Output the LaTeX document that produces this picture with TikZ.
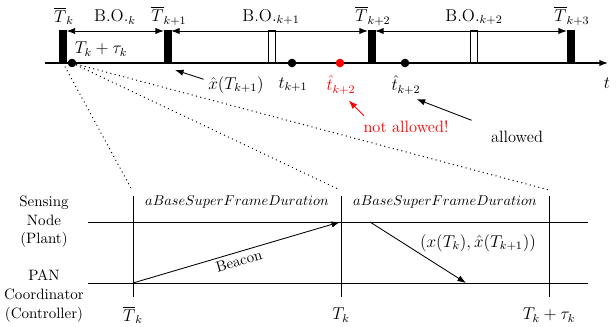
\documentclass[tikz,border=0pt]{standalone}
\usepackage{amsmath, amssymb}
\usetikzlibrary{arrows.meta}

\begin{document}
\begin{tikzpicture}[x=0.7pt, y=-0.7pt, >={Latex[length=6pt,width=4.4pt]},
    line width=0.6pt, font=\fontsize{12}{14.4}\selectfont,
    barra/.style={draw, fill=black, inner sep=0pt, line width=0.4pt,
        minimum width=4.6pt, minimum height=23pt, anchor=south},
    barravuota/.style={barra, fill=white},
    punto/.style={circle, fill=black, inner sep=0pt, minimum size=6pt},
    puntini/.style={line width=0.9pt, dash pattern=on 0.1pt off 3pt, line cap=round},
    testo/.style={font=\fontsize{10.5}{13}\selectfont, align=center}]

    \useasboundingbox (0,0) rectangle (616,327);

    % Asse dei tempi
    \coordinate (a0) at (45,63);
    \coordinate (a1) at (608,63);
    \draw[->, line width=0.8pt] (a0) -- (a1);
    \node (tt) at (607,83) {$t$};

    % Barre (beacon)
    \node[barra] (b0) at (63,63) {};
    \node[barra] (b1) at (167.5,63) {};
    \node[barra] (b2) at (371.5,63) {};
    \node[barra] (b3) at (570.5,63) {};
    \node[barravuota] (v1) at (271.5,63) {};
    \node[barravuota] (v2) at (473.5,63) {};

    % Beacon order
    \draw[<->] ([yshift=-1pt]b0.north east) -- ([yshift=-1pt]b1.north west);
    \draw[<->] ([yshift=-1pt]b1.north east) -- ([yshift=-1pt]b2.north west);
    \draw[<->] ([yshift=-1pt]b2.north east) -- ([yshift=-1pt]b3.north west);

    % Etichette in alto
    \node (Tb0) at (64,16) {$\overline{T}_k$};
    \node (Tb1) at (169,16) {$\overline{T}_{k+1}$};
    \node (Tb2) at (373,16) {$\overline{T}_{k+2}$};
    \node (Tb3) at (572,16) {$\overline{T}_{k+3}$};
    \node (BO0) at (115,17) {B.O.$_k$};
    \node (BO1) at (271,17) {B.O.$_{k+1}$};
    \node (BO2) at (474,17) {B.O.$_{k+2}$};
    \node (Ttau) at (101,49) {$T_k+\tau_k$};

    % Istanti di campionamento
    \node[punto] (d0) at (72,63) {};
    \node[punto] (d1) at (292,63) {};
    \node[punto, fill=red] (dr) at (340,63) {};
    \node[punto] (dh) at (405,63) {};
    \node[inner sep=1pt] (t1) at (293,85) {$t_{k+1}$};
    \node[red, inner sep=1pt] (thr) at (341,85) {$\hat{t}_{k+2}$};
    \node[inner sep=1pt] (th) at (406,85) {$\hat{t}_{k+2}$};

    % Frecce e commenti
    \coordinate (pb1) at (175,70);
    \node[inner sep=1pt] (xh) at (236,85) {$\hat{x}(T_{k+1})$};
    \draw[->] ([xshift=-2pt,yshift=4pt]xh.west) -- (pb1);
    \node[red, testo, font=\fontsize{11.5}{13}\selectfont] (na) at (406,127) {not allowed!};
    \draw[->, red] ([xshift=4pt]na.north west) -- ([xshift=-6pt,yshift=-3pt]thr.south east);
    \node[testo, font=\fontsize{11.5}{13}\selectfont] (ok) at (517,137) {allowed};
    \draw[->] ([xshift=-10pt,yshift=4pt]ok.north west) -- ([xshift=-4pt,yshift=-2pt]th.south east);

    % Diagramma sotto
    \coordinate (v0t) at (133,196);
    \coordinate (v0b) at (133,297);
    \coordinate (v1t) at (341,196);
    \coordinate (v1b) at (341,297);
    \coordinate (v2t) at (549,196);
    \coordinate (v2b) at (549,297);
    \coordinate (s0) at (88,222);
    \coordinate (s1) at (588,222);
    \coordinate (p0) at (88,283);
    \coordinate (p1) at (588,283);
    \draw (v0t) -- (v0b);
    \draw (v1t) -- (v1b);
    \draw (v2t) -- (v2b);
    \draw (s0) -- (s1);
    \draw (p0) -- (p1);

    % Zoom (linee tratteggiate)
    \coordinate (z0) at (132,190);
    \coordinate (z1) at (340,190);
    \coordinate (z2) at (549,190);
    \draw[puntini] (b0.south) -- (z0);
    \draw[puntini] (d0) -- (z1);
    \draw[puntini] (d0) -- (z2);

    % Etichette sotto
    \node[testo] (sn) at (44,222) {Sensing\\Node\\(Plant)};
    \node[testo] (pan) at (44,296) {PAN\\Coordinator\\(Controller)};
    \node (Tbk) at (133,315) {$\overline{T}_k$};
    \node (Tk) at (341,315) {$T_k$};
    \node (Tkt) at (549,315) {$T_k+\tau_k$};
    \node[font=\fontsize{10}{12}\selectfont] (ab1) at (237,202) {$aBaseSuperFrameDuration$};
    \node[font=\fontsize{10}{12}\selectfont] (ab2) at (445,202) {$aBaseSuperFrameDuration$};

    % Messaggi
    \coordinate (bc0) at (133,283);
    \coordinate (bc1) at (340,222);
    \draw[->] (bc0) -- node[midway, below, sloped, testo, inner sep=2pt] {Beacon} (bc1);
    \coordinate (m0) at (370,222);
    \coordinate (m1) at (466,283);
    \draw[->] (m0) -- (m1);
    \node (msg) at (478,243) {$(x(T_k),\hat{x}(T_{k+1}))$};

\end{tikzpicture}
\end{document}
